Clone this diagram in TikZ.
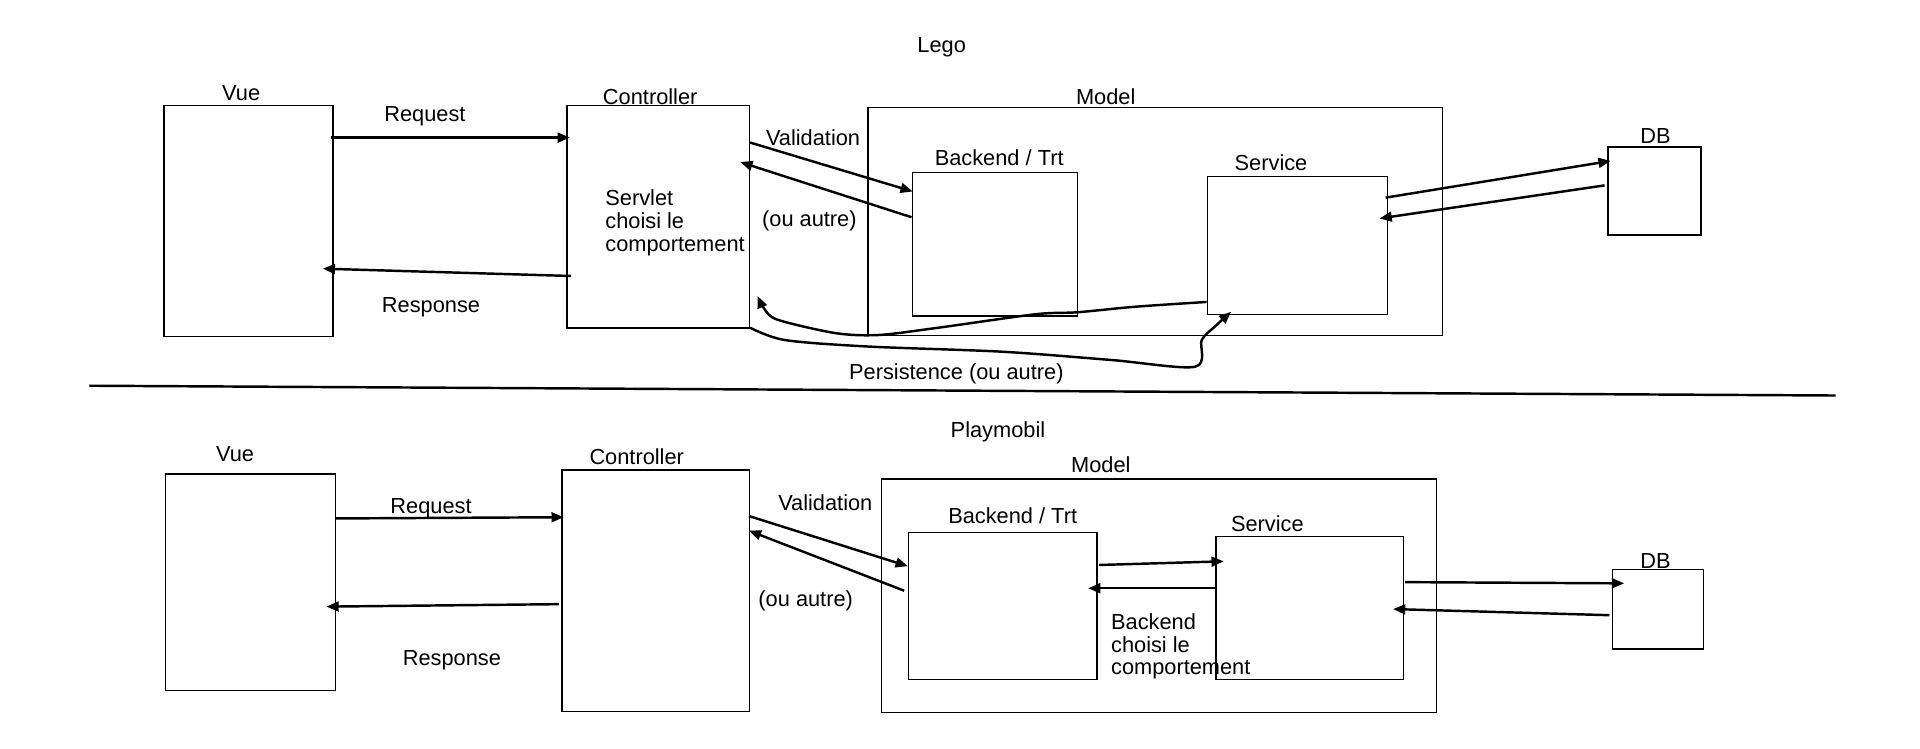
\documentclass[tikz,border=0pt]{standalone}
\usepackage{fontspec}
\setmainfont{Liberation Sans}
\usetikzlibrary{positioning}
\usetikzlibrary{fit}
\usetikzlibrary{calc}
\usetikzlibrary{arrows.meta}

\begin{document}
\begin{tikzpicture}[x=0.5pt, y=-0.5pt,
  box/.style={draw, line width=0.6pt, inner sep=0pt},
  txt/.style={inner sep=0pt, font=\fontsize{8.9}{9.3}\selectfont},
  lbl/.style={txt, text height=0.72em, text depth=0pt},
  conn/.style={line width=1pt, -{Triangle[length=5pt,width=4pt]}}]
\useasboundingbox (0,0) rectangle (1568,611);

\begin{scope}
% Lego
\node[lbl] (legoT) at (769,36) {Lego};

\node[box, fit={(134,86) (272,275)}] (vueA) {};
\node[box, fit={(463,86) (612,268)}] (ctrlA) {};
\node[box, fit={(709,88) (1178,274)}] (modelA) {};
\node[box, fit={(745,141) (880,258)}] (beA) {};
\node[box, fit={(986,144) (1133,257)}] (svcA) {};
\node[box, fit={(1313,120) (1389,192)}] (dbA) {};

\node[lbl] at (197,75) {Vue};
\node[lbl] at (531,78) {Controller};
\node[lbl] at (903,78) {Model};
\node[lbl] at (816,128) {Backend / Trt};
\node[lbl] at (1038,132) {Service};
\node[lbl] at (1352,110) {DB};

\node[lbl] at (347,92) {Request};
\node[lbl] at (352,248) {Response};
\node[lbl] at (664,112) {Validation};
\node[lbl] at (661,178) {(ou autre)};
\node[txt, align=left, anchor=west] at (494,182) {Servlet\\choisi le\\comportement};
\node[lbl] at (781,303) {Persistence (ou autre)};

\draw[conn] ($(vueA.north east)+(-2,27)$) -- ($(ctrlA.north west)+(3,27)$);
\draw[conn] ($(ctrlA.north west)+(4,140)$) -- ($(vueA.north east)+(-9,134)$);
\draw[conn] ($(ctrlA.north east)+(0,31)$) -- ($(beA.north west)+(1,16)$);
\draw[conn] ($(beA.north west)+(0,37)$) -- ($(ctrlA.north east)+(-8,47)$);
\draw[conn] ($(svcA.north east)+(-2,18)$) -- ($(dbA.north west)+(3,12)$);
\draw[conn] ($(dbA.north west)+(-2,32)$) -- ($(svcA.north east)+(-7,35)$);

% hand drawn returns
\coordinate (svcOut) at ($(svcA.south west)+(0,-11)$);
\coordinate (ctrlIn) at ($(ctrlA.south east)+(6,-27)$);
\coordinate (ctrlOut) at ($(ctrlA.south east)+(0,-1)$);
\coordinate (svcIn) at ($(svcA.south west)+(20,-3)$);
\draw[conn, line join=round] plot[smooth, tension=0.5] coordinates {(svcOut) (927,250.5) (880,255) (845,256.7) (763.6,268) (717,273.6) (682,272) (635.6,261.3) (624.7,253) (ctrlIn)};
\draw[conn, line join=round] plot[smooth, tension=0.5] coordinates {(ctrlOut) (641,277.7) (709,283) (818,287.2) (907.8,294) (976,299.5) (981.4,277.7) (992,266.8) (svcIn)};
\end{scope}

\draw[line width=1pt] (73,315) -- (1499,323);

\begin{scope}
% Playmobil
\node[lbl] (playT) at (815,350) {Playmobil};

\node[box, fit={(135,387) (274,564)}] (vueB) {};
\node[box, fit={(459,384) (612,581)}] (ctrlB) {};
\node[box, fit={(720,391) (1173,582)}] (modelB) {};
\node[box, fit={(742,435) (896,555)}] (beB) {};
\node[box, fit={(993,438) (1146,555)}] (svcB) {};
\node[box, fit={(1317,465) (1391,530)}] (dbB) {};

\node[lbl] at (192,370) {Vue};
\node[lbl] at (520,372) {Controller};
\node[lbl] at (899,379) {Model};
\node[lbl] at (827,420) {Backend / Trt};
\node[lbl] at (1035,427) {Service};
\node[lbl] at (1352,457) {DB};

\node[lbl] at (352,412) {Request};
\node[lbl] at (369,536) {Response};
\node[lbl] at (674,410) {Validation};
\node[lbl] at (658,488) {(ou autre)};
\node[txt, align=left, anchor=west] at (907,528) {Backend\\choisi le\\comportement};

\draw[conn] ($(vueB.north east)+(-1,37)$) -- ($(ctrlB.north west)+(2,39)$);
\draw[conn] ($(ctrlB.north west)+(-2,110)$) -- ($(vueB.north east)+(-8,109)$);
\draw[conn] ($(ctrlB.north east)+(-1,38)$) -- ($(beB.north west)+(0,28)$);
\draw[conn] ($(beB.north west)+(-3,48)$) -- ($(ctrlB.north east)+(-1,50)$);
\draw[conn] ($(beB.north east)+(1,27)$) -- ($(svcB.north west)+(7,21)$);
\draw[conn] ($(svcB.north west)+(0,43)$) -- ($(beB.north east)+(-8,46)$);
\draw[conn] ($(svcB.north east)+(1,38)$) -- ($(dbB.north west)+(10,12)$);
\draw[conn] ($(dbB.north west)+(-2,38)$) -- ($(svcB.north east)+(-9,60)$);
\end{scope}
\end{tikzpicture}
\end{document}
